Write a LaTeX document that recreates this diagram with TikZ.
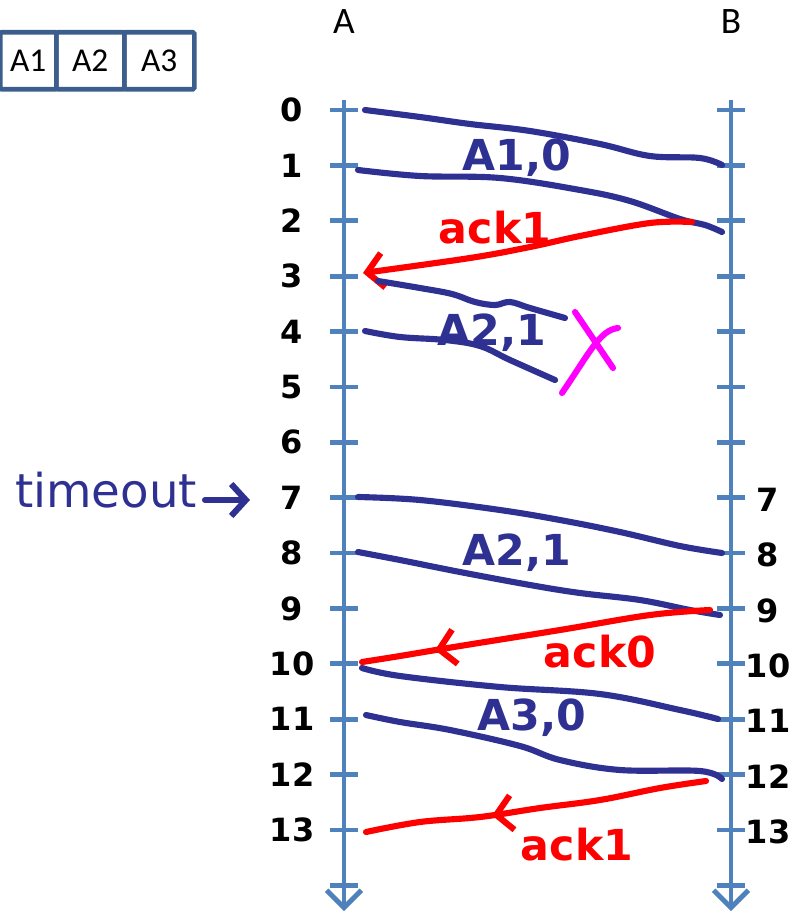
\documentclass[tikz,border=0pt]{standalone}
\usepackage{fontspec}
\setmainfont{Carlito}
\newfontfamily\hand{DejaVu Sans}
\usetikzlibrary{arrows.meta,decorations.markings}
\definecolor{axisblue}{HTML}{4F81BD}
\definecolor{boxblue}{HTML}{3B5E8C}
\definecolor{ink}{HTML}{2E3192}
\definecolor{inkred}{HTML}{FF0000}
\definecolor{inkmag}{HTML}{FF00FF}
\tikzset{
  axisline/.style={axisblue, line width=3.6pt, -{Straight Barb[length=13pt,width=26pt,line width=3.6pt]}},
  tickline/.style={axisblue, line width=3.6pt},
  cell/.style={draw=boxblue, line width=3.4pt, rounded corners=1pt, minimum width=#1*0.75pt, minimum height=57*0.75pt, inner sep=0pt, font=\fontsize{25}{27}\selectfont, anchor=north west},
  top/.style={font=\fontsize{28}{30}\selectfont},
  num/.style={font=\hand\bfseries\fontsize{24}{26}\selectfont, inner sep=0pt},
  msg/.style={ink, line width=4.6pt, line cap=round, line join=round},
  ack/.style={inkred, line width=4.6pt, line cap=round, line join=round},
  redtip/.style={-{Straight Barb[length=12pt,width=26pt,line width=4.6pt]}},
  midtip/.style={postaction={decorate}, decoration={markings, mark=at position #1 with {\arrow{Straight Barb[length=12pt,width=26pt,line width=4.6pt]}}}},
  hw/.style={font=\hand\bfseries\fontsize{32}{34}\selectfont, inner sep=0pt},
}
\begin{document}
\begin{tikzpicture}[x=0.75pt,y=-0.75pt]
\useasboundingbox (0,0) rectangle (793,913);
% buffer boxes
\node[cell=56] (c1) at (-2,30) {A1};
\node[cell=68] (c2) at (54,30) {A2};
\node[cell=70] (c3) at (122,30) {A3};
% titles
\node[top] (tA) at (344,22) {A};
\node[top] (tB) at (731,22) {B};
% axes
\coordinate (Atop) at (344,100);
\coordinate (Abot) at (344,911);
\coordinate (Btop) at (731,100);
\coordinate (Bbot) at (731,911);
\draw[axisline] (Atop) -- (Abot);
\draw[axisline] (Btop) -- (Bbot);
\foreach \i in {0,...,14} {
  \coordinate (A\i) at (344,110+55.38*\i);
  \coordinate (B\i) at (731,110+55.38*\i);
  \draw[tickline] (A\i) ++(-14,0) -- ++(28,0);
  \draw[tickline] (B\i) ++(-14,0) -- ++(28,0);
}
\foreach \i in {0,...,13} {
  \node[num] (nA\i) at (292,110+55.38*\i) {\i};
}
\foreach \i in {7,...,13} {
  \node[num] (nB\i) at (768,112+55.38*\i) {\i};
}
% A1,0
\coordinate (m1s) at (365,110); \coordinate (m1e) at (722,165);
\draw[msg] plot[smooth, tension=0.6] coordinates {(m1s) (420,117) (470,124) (530,131) (600,144) (650,156) (700,158) (m1e)};
\coordinate (m2s) at (358,170); \coordinate (m2e) at (722,232);
\draw[msg] plot[smooth, tension=0.6] coordinates {(m2s) (420,176) (500,178) (580,190) (630,201) (680,219) (705,225) (m2e)};
\node[hw, ink] (l1) at (517,158) {A1,0};
% ack1
\coordinate (a1s) at (692,222); \coordinate (a1e) at (363,273);
\draw[ack, redtip] plot[smooth, tension=0.6] coordinates {(a1s) (650,223) (580,236) (530,247) (470,258) (a1e)};
\node[hw, inkred] (l2) at (495,228) {ack1};
% A2,1 lost
\coordinate (m3s) at (378,281); \coordinate (m3e) at (565,318);
\draw[msg] plot[smooth, tension=0.6] coordinates {(m3s) (420,288) (452,294) (475,302) (495,305) (510,302) (530,308) (m3e)};
\coordinate (m4s) at (365,331); \coordinate (m4e) at (555,380);
\draw[msg] plot[smooth, tension=0.6] coordinates {(m4s) (400,337) (445,340) (480,346) (510,360) (m4e)};
\node[hw, ink] (l3) at (492,333) {A2,1};
% lost mark X
\coordinate (x1s) at (575,312); \coordinate (x1e) at (613,368);
\coordinate (x2s) at (562,393); \coordinate (x2e) at (618,328);
\draw[inkmag, line width=4.6pt, line cap=round] (x1s) -- (x1e);
\draw[inkmag, line width=4.6pt, line cap=round] (x2s) .. controls (590,352) and (600,330) .. (x2e);
% timeout
\node[hw, ink, font=\hand\fontsize{35}{37}\selectfont] (to) at (106,490) {timeout};
\coordinate (tos) at (205,500); \coordinate (toe) at (250,500);
\draw[ink, line width=4.6pt, line cap=round, -{Straight Barb[length=11pt,width=24pt,line width=4.6pt]}] (tos) -- (toe);
% A2,1 retransmission
\coordinate (m5s) at (358,497); \coordinate (m5e) at (722,553);
\draw[msg] plot[smooth, tension=0.6] coordinates {(m5s) (420,500) (500,510) (560,520) (620,532) (680,546) (m5e)};
\coordinate (m6s) at (358,552); \coordinate (m6e) at (720,615);
\draw[msg] plot[smooth, tension=0.6] coordinates {(m6s) (400,560) (460,572) (530,585) (580,593) (640,600) (690,610) (m6e)};
\node[hw, ink] (l4) at (517,553) {A2,1};
% ack0
\coordinate (a2s) at (710,610); \coordinate (a2e) at (362,662);
\draw[ack, midtip=0.79] plot[smooth, tension=0.6] coordinates {(a2s) (650,615) (560,630) (460,646) (400,656) (a2e)};
\node[hw, inkred] (l5) at (600,652) {ack0};
% A3,0
\coordinate (m7s) at (362,668); \coordinate (m7e) at (718,719);
\draw[msg] plot[smooth, tension=0.6] coordinates {(m7s) (400,676) (500,687) (600,694) (680,710) (m7e)};
\coordinate (m8s) at (366,715); \coordinate (m8e) at (722,779);
\draw[msg] plot[smooth, tension=0.6] coordinates {(m8s) (400,722) (450,730) (520,746) (560,760) (620,770) (700,771) (m8e)};
\node[hw, ink] (l6) at (532,718) {A3,0};
% ack1
\coordinate (a3s) at (706,781); \coordinate (a3e) at (366,832);
\draw[ack, midtip=0.63] plot[smooth, tension=0.6] coordinates {(a3s) (660,788) (600,800) (540,808) (480,817) (420,822) (a3e)};
\node[hw, inkred] (l7) at (577,845) {ack1};
\end{tikzpicture}
\end{document}
